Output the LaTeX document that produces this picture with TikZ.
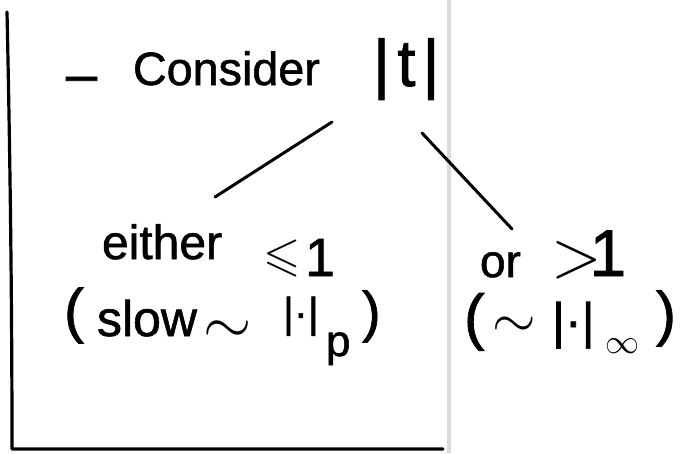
\documentclass[tikz,border=0pt]{standalone}
\usepackage{amssymb}
\usepackage{graphicx}
\usepackage{fontspec}
\setmainfont[FakeBold=1.2]{Liberation Sans}
% set a font size in pt, leading equal to it
\newcommand{\handsize}[1]{\fontsize{#1}{#1}\selectfont}
\begin{document}
\begin{tikzpicture}[x=1pt, y=-1pt,
  ink/.style={draw=black, line width=3pt, line cap=round, line join=round},
  txt/.style={inner sep=0pt, outer sep=0pt, anchor=base west, text=black},
]
\useasboundingbox[fill=white] (0,0) rectangle (688,453);

% fold of the sheet
\draw[draw=black!14, line width=3.5pt] (449,0) -- (449,453);
% margin rule and bottom rule
\draw[ink, line width=3.2pt] (7,12) .. controls (10,150) and (12,300) .. (12,449) -- (443,449);

% heading
\node[txt] (dash) at (66,93) {\handsize{56}–};
\node[txt] (consider) at (133,85) {\handsize{46.7}Consider};
\node[txt] (abs) at (373,86) {\handsize{66}|\kern7pt t\kern7pt|};

% left case
\node[txt] (either) at (102,259) {\handsize{48}either};
\node[txt] (leq) at (263,270) {\scalebox{4.8}{$\leqslant$}};
\node[txt] (oneA) at (305,276) {\handsize{54}1};
\node[txt] (lparA) at (64,331) {\handsize{60}(};
\node[txt] (slow) at (97,336) {\handsize{50}slow};
\node[txt] (simA) at (203,343) {\scalebox{6.2}{$\sim$}};
\node[txt] (normA) at (283,327) {\handsize{42}|·|};
\node[txt] (subp) at (326,356) {\handsize{44}p};
\node[txt] (rparA) at (362,331) {\handsize{56})};

% right case
\node[txt] (or) at (480,277) {\handsize{46}or};
\node[txt] (gt) at (551,276) {\scalebox{6.5}{$>$}\kern-12pt\handsize{66}1};
\node[txt] (lparB) at (464,338) {\handsize{62}(};
\node[txt] (simB) at (492,337) {\scalebox{5.6}{$\sim$}};
\node[txt] (normB) at (552,338) {\handsize{50}|·|};
\node[txt] (inf) at (605,353) {\scalebox{3.4}{$\infty$}};
\node[txt] (rparB) at (656,334) {\handsize{60})};

% branches
\draw[ink] ([shift={(-41,36)}]abs.base west) -- ([shift={(113,-62)}]either.base west);
\draw[ink] ([shift={(49,47)}]abs.base west) -- ([shift={(32,-48)}]or.base west);
\end{tikzpicture}
\end{document}
